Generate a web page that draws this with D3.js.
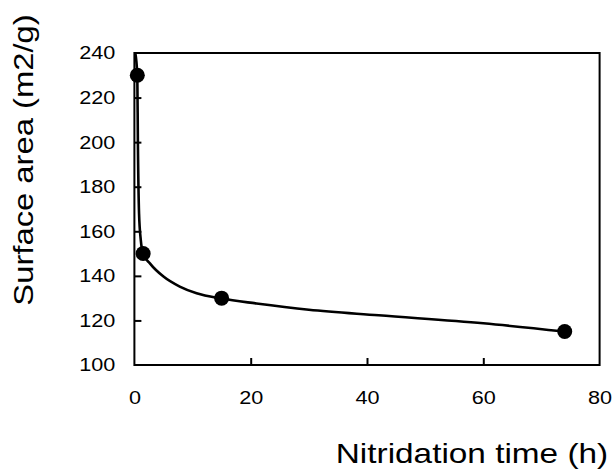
<!DOCTYPE html>
<html>
<head>
<meta charset="utf-8">
<script src="https://cdn.jsdelivr.net/npm/d3@7"></script>
<style>
  body { margin: 0; background: #fff; }
  text { font-family: "Liberation Sans", Arial, Helvetica, sans-serif; fill: #000; }
</style>
</head>
<body>
<div id="chart"></div>
<script>
// Measured points
const timeHours = [0.5, 1.5, 15, 74];
const surfaceArea = [230, 150, 130, 115];

// Fitted curve
const fitTime = [0.15, 0.5, 0.6, 0.8, 1.1, 1.5, 2.7, 5, 7.8, 10.7, 15, 21, 30, 42, 60, 74];
const fitArea = [240, 230, 200, 168, 156, 150, 145.5, 139.7, 135.2, 132.2, 129.8, 127.6, 124.8, 122.3, 118.7, 115];

const xTicks = [0, 20, 40, 60, 80];
const yTicks = [100, 120, 140, 160, 180, 200, 220, 240];

const width = 614, height = 470;
const margin = { top: 53, right: 14.4, bottom: 105, left: 134.4 };
const innerW = width - margin.left - margin.right;
const innerH = height - margin.top - margin.bottom;
const fontStretch = 1.17; // the original lettering is wider than Liberation Sans

const svg = d3.select("#chart").append("svg")
    .attr("width", width)
    .attr("height", height);

const g = svg.append("g")
    .attr("transform", `translate(${margin.left},${margin.top})`);

const x = d3.scaleLinear().domain([0, 80]).range([0, innerW]);
const y = d3.scaleLinear().domain([100, 240]).range([innerH, 0]);

// frame
g.append("rect")
    .attr("width", innerW)
    .attr("height", innerH)
    .attr("fill", "none")
    .attr("stroke", "#000")
    .attr("stroke-width", 2);

// axes with inward ticks
const xAxis = g.append("g")
    .attr("transform", `translate(0,${innerH})`)
    .call(d3.axisBottom(x).tickValues(xTicks).tickSize(-7).tickPadding(26));
const yAxis = g.append("g")
    .call(d3.axisLeft(y).tickValues(yTicks).tickSize(-7).tickPadding(19));

[xAxis, yAxis].forEach(ax => {
    ax.select(".domain").remove();
    ax.selectAll(".tick line").attr("stroke", "#000").attr("stroke-width", 2);
    ax.selectAll(".tick text")
        .style("font-family", "'Liberation Sans', Arial, sans-serif")
        .style("font-size", "18.5px")
        .attr("fill", "#000");
});
// no inner tick at the ends
xAxis.selectAll(".tick line").filter(d => d === 0 || d === 80).remove();
yAxis.selectAll(".tick line").filter(d => d === 100 || d === 240).remove();

// fitted curve
const line = d3.line()
    .x(i => x(fitTime[i]))
    .y(i => y(fitArea[i]))
    .curve(d3.curveMonotoneX);

g.append("path")
    .datum(d3.range(fitTime.length))
    .attr("d", line)
    .attr("fill", "none")
    .attr("stroke", "#000")
    .attr("stroke-width", 2.6);

// points
g.selectAll(".pt")
    .data(d3.range(timeHours.length))
    .enter()
    .append("circle")
        .attr("class", "pt")
        .attr("cx", i => x(timeHours[i]))
        .attr("cy", i => y(surfaceArea[i]))
        .attr("r", 7.5)
        .attr("fill", "#000");

// axis titles
svg.append("text")
    .attr("x", 472)
    .attr("y", 463)
    .attr("text-anchor", "middle")
    .style("font-size", "28.5px")
    .text("Nitridation time (h)");

svg.append("text")
    .attr("transform", "translate(33,160) rotate(-90)")
    .attr("text-anchor", "middle")
    .style("font-size", "28px")
    .text("Surface area (m2/g)");

// widen all lettering
svg.selectAll("text").each(function () {
    const w = this.getComputedTextLength();
    d3.select(this)
        .attr("textLength", w * fontStretch)
        .attr("lengthAdjust", "spacingAndGlyphs");
});
</script>
</body>
</html>
